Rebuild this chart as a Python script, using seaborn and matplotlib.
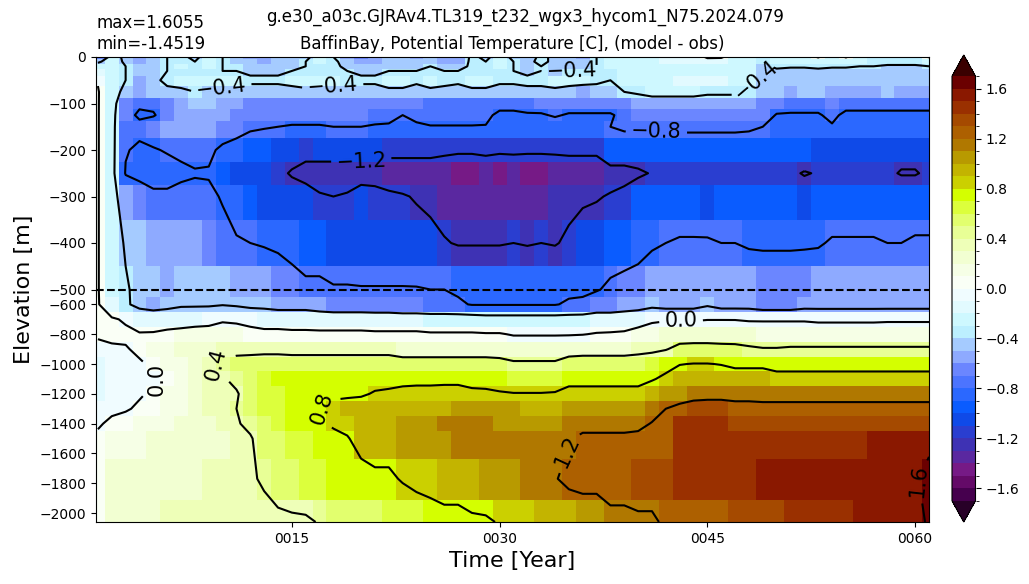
import numpy as np
import matplotlib
matplotlib.use("Agg")
import matplotlib.pyplot as plt
import seaborn as sns
from matplotlib.colors import ListedColormap, BoundaryNorm

# ---- data ----
years = np.arange(1, 62)  # annual values, year 0001 .. 0061
depth = [0, 10, 20, 30, 50, 75, 100, 125, 150, 200, 250, 300, 400, 500,
         600, 700, 800, 900, 1000, 1100, 1200, 1300, 1400, 1500, 1770, 2060]

# model - obs potential temperature [C], one row per depth, one value per year
temp_diff = [
    # 0 m
    [-0.70, -0.30, -0.45, -0.55, -0.45, -0.40, -0.35, -0.45, -0.30, -0.40,
     -0.45, -0.55, -0.55, -0.50, -0.45, -0.45, -0.30, -0.40, -0.55, -0.65,
     -0.60, -0.45, -0.50, -0.55, -0.45, -0.60, -0.60, -0.35, -0.45, -0.30,
     -0.45, -0.50, -0.35, -0.45, -0.45, -0.55, -0.40, -0.30, -0.30, -0.30,
     -0.25, -0.20, -0.15, -0.20, 0.05, 0.05, -0.25, -0.30, -0.35, -0.30,
     -0.30, -0.25, 0.03, -0.30, 0.03, -0.30, -0.35, -0.35, -0.32, -0.35, 0.03],
    # 10 m
    [-0.45, -0.25, -0.45, -0.55, -0.45, -0.40, -0.35, -0.40, -0.30, -0.40,
     -0.45, -0.50, -0.55, -0.50, -0.45, -0.40, -0.30, -0.35, -0.50, -0.60,
     -0.55, -0.45, -0.50, -0.50, -0.45, -0.55, -0.55, -0.35, -0.40, -0.30,
     -0.40, -0.45, -0.35, -0.45, -0.45, -0.50, -0.40, -0.30, -0.30, -0.25,
     -0.25, -0.20, -0.20, -0.20, -0.15, -0.20, -0.25, -0.30, -0.35, -0.30,
     -0.30, -0.30, -0.25, -0.30, -0.25, -0.30, -0.35, -0.35, -0.35, -0.35, -0.25],
    # 20 m
    [-0.25, -0.25, -0.40, -0.50, -0.45, -0.40, -0.30, -0.35, -0.30, -0.40,
     -0.40, -0.45, -0.50, -0.50, -0.45, -0.40, -0.35, -0.35, -0.45, -0.50,
     -0.50, -0.45, -0.45, -0.45, -0.40, -0.45, -0.50, -0.35, -0.35, -0.30,
     -0.40, -0.45, -0.40, -0.45, -0.45, -0.45, -0.40, -0.30, -0.30, -0.25,
     -0.25, -0.25, -0.25, -0.25, -0.25, -0.25, -0.25, -0.30, -0.45, -0.35,
     -0.38, -0.38, -0.35, -0.38, -0.38, -0.40, -0.40, -0.42, -0.42, -0.42, -0.40],
    # 30 m
    [-0.15, -0.25, -0.40, -0.50, -0.45, -0.40, -0.35, -0.40, -0.35, -0.40,
     -0.40, -0.45, -0.45, -0.45, -0.40, -0.35, -0.35, -0.35, -0.40, -0.45,
     -0.45, -0.40, -0.40, -0.40, -0.35, -0.40, -0.40, -0.35, -0.35, -0.35,
     -0.40, -0.45, -0.40, -0.45, -0.40, -0.40, -0.40, -0.35, -0.30, -0.25,
     -0.25, -0.25, -0.25, -0.25, -0.25, -0.25, -0.25, -0.30, -0.50, -0.45,
     -0.45, -0.45, -0.45, -0.45, -0.45, -0.45, -0.50, -0.50, -0.50, -0.50, -0.50],
    # 50 m
    [-0.02, -0.25, -0.40, -0.55, -0.45, -0.35, -0.30, -0.30, -0.30, -0.30,
     -0.30, -0.35, -0.35, -0.35, -0.30, -0.30, -0.30, -0.30, -0.35, -0.35,
     -0.35, -0.30, -0.30, -0.35, -0.30, -0.35, -0.35, -0.30, -0.30, -0.35,
     -0.35, -0.35, -0.35, -0.30, -0.30, -0.30, -0.35, -0.40, -0.30, -0.25,
     -0.25, -0.25, -0.20, -0.20, -0.20, -0.20, -0.25, -0.30, -0.50, -0.50,
     -0.50, -0.50, -0.50, -0.50, -0.50, -0.50, -0.50, -0.50, -0.50, -0.50, -0.50],
    # 75 m
    [0.02, -0.25, -0.50, -0.60, -0.50, -0.45, -0.45, -0.40, -0.45, -0.45,
     -0.45, -0.50, -0.50, -0.50, -0.50, -0.45, -0.45, -0.50, -0.50, -0.50,
     -0.50, -0.45, -0.45, -0.50, -0.45, -0.45, -0.50, -0.45, -0.45, -0.50,
     -0.50, -0.45, -0.45, -0.45, -0.50, -0.55, -0.50, -0.45, -0.40, -0.35,
     -0.30, -0.30, -0.30, -0.30, -0.35, -0.35, -0.35, -0.40, -0.50, -0.50,
     -0.55, -0.50, -0.50, -0.55, -0.55, -0.55, -0.55, -0.50, -0.55, -0.55, -0.55],
    # 100 m
    [0.02, -0.28, -0.65, -0.75, -0.75, -0.65, -0.55, -0.50, -0.45, -0.55,
     -0.55, -0.65, -0.65, -0.65, -0.70, -0.70, -0.70, -0.70, -0.70, -0.70,
     -0.70, -0.70, -0.70, -0.70, -0.75, -0.75, -0.75, -0.72, -0.72, -0.72,
     -0.72, -0.72, -0.70, -0.70, -0.70, -0.70, -0.70, -0.70, -0.68, -0.60,
     -0.55, -0.55, -0.55, -0.55, -0.55, -0.55, -0.55, -0.60, -0.65, -0.65,
     -0.72, -0.72, -0.72, -0.70, -0.72, -0.72, -0.72, -0.72, -0.72, -0.72, -0.72],
    # 125 m
    [0.02, -0.30, -0.70, -0.85, -0.82, -0.70, -0.60, -0.55, -0.60, -0.60,
     -0.65, -0.65, -0.65, -0.70, -0.70, -0.70, -0.70, -0.70, -0.70, -0.70,
     -0.72, -0.75, -0.80, -0.72, -0.72, -0.72, -0.72, -0.72, -0.75, -0.85,
     -0.85, -0.82, -0.82, -0.78, -0.82, -0.82, -0.82, -0.82, -0.75, -0.65,
     -0.65, -0.65, -0.65, -0.65, -0.65, -0.65, -0.65, -0.65, -0.65, -0.82,
     -0.82, -0.82, -0.82, -0.75, -0.85, -0.85, -0.85, -0.85, -0.85, -0.85, -0.85],
    # 150 m
    [0.02, -0.30, -0.75, -0.72, -0.65, -0.60, -0.55, -0.60, -0.60, -0.65,
     -0.70, -0.75, -0.78, -0.80, -0.82, -0.82, -0.82, -0.80, -0.80, -0.80,
     -0.82, -0.82, -0.85, -0.85, -0.81, -0.81, -0.81, -0.81, -0.81, -0.90,
     -0.90, -0.90, -0.90, -0.90, -0.90, -0.90, -0.85, -0.80, -0.75, -0.75,
     -0.75, -0.75, -0.75, -0.75, -0.75, -0.75, -0.75, -0.75, -0.80, -0.85,
     -0.85, -0.85, -0.85, -0.82, -0.90, -0.90, -0.90, -0.90, -0.90, -0.90, -0.90],
    # 200 m
    [0.02, -0.30, -0.78, -0.85, -0.82, -0.78, -0.75, -0.72, -0.75, -0.85,
     -0.90, -1.00, -1.00, -1.05, -1.10, -1.12, -1.10, -1.10, -1.10, -1.10,
     -1.05, -1.12, -1.12, -1.12, -1.12, -1.15, -1.15, -1.15, -1.15, -1.15,
     -1.15, -1.15, -1.15, -1.15, -1.15, -1.15, -1.15, -1.00, -1.00, -1.00,
     -1.00, -0.95, -0.95, -0.95, -0.95, -0.95, -0.95, -1.00, -1.00, -1.00,
     -1.00, -1.00, -1.05, -1.05, -1.05, -1.05, -1.10, -1.10, -1.10, -1.10, -1.10],
    # 250 m
    [0.02, -0.30, -0.82, -0.88, -0.90, -0.90, -0.85, -0.82, -0.82, -1.00,
     -1.05, -1.05, -1.10, -1.15, -1.22, -1.28, -1.30, -1.30, -1.30, -1.30,
     -1.30, -1.35, -1.35, -1.35, -1.35, -1.35, -1.45, -1.45, -1.35, -1.45,
     -1.40, -1.45, -1.45, -1.40, -1.35, -1.35, -1.35, -1.30, -1.30, -1.25,
     -1.18, -1.15, -1.15, -1.15, -1.15, -1.15, -1.15, -1.15, -1.15, -1.15,
     -1.15, -1.22, -1.18, -1.15, -1.15, -1.15, -1.15, -1.15, -1.22, -1.22, -1.15],
    # 300 m
    [0.02, -0.30, -0.55, -0.65, -0.75, -0.75, -0.72, -0.72, -0.75, -0.82,
     -0.90, -0.95, -1.05, -1.05, -1.10, -1.10, -1.18, -1.20, -1.18, -1.10,
     -1.12, -1.15, -1.18, -1.22, -1.28, -1.32, -1.32, -1.32, -1.32, -1.32,
     -1.32, -1.35, -1.35, -1.30, -1.28, -1.25, -1.22, -1.18, -1.12, -1.00,
     -1.00, -1.00, -1.00, -1.00, -1.02, -1.00, -1.00, -1.00, -1.00, -1.00,
     -1.00, -1.05, -1.00, -1.00, -1.00, -1.00, -1.00, -1.00, -1.00, -1.00, -1.00],
    # 400 m
    [0.02, -0.30, -0.42, -0.50, -0.60, -0.55, -0.60, -0.60, -0.65, -0.72,
     -0.78, -0.80, -0.82, -0.85, -0.90, -1.00, -1.00, -1.05, -1.05, -1.05,
     -1.05, -1.05, -1.05, -1.10, -1.10, -1.18, -1.22, -1.22, -1.22, -1.22,
     -1.20, -1.22, -1.20, -1.22, -1.15, -1.05, -1.05, -0.95, -0.95, -0.90,
     -0.85, -0.80, -0.77, -0.77, -0.77, -0.80, -0.80, -0.83, -0.83, -0.83,
     -0.83, -0.83, -0.83, -0.77, -0.77, -0.77, -0.77, -0.80, -0.80, -0.76, -0.76],
    # 500 m
    [0.02, -0.30, -0.38, -0.45, -0.50, -0.55, -0.45, -0.45, -0.50, -0.50,
     -0.55, -0.60, -0.60, -0.62, -0.68, -0.72, -0.72, -0.77, -0.77, -0.78,
     -0.78, -0.78, -0.78, -0.78, -0.80, -0.80, -0.85, -0.85, -0.85, -0.85,
     -0.90, -0.90, -0.88, -0.88, -0.88, -0.88, -0.82, -0.75, -0.70, -0.68,
     -0.55, -0.55, -0.55, -0.55, -0.55, -0.55, -0.60, -0.60, -0.65, -0.65,
     -0.65, -0.62, -0.55, -0.55, -0.55, -0.55, -0.55, -0.55, -0.55, -0.55, -0.55],
    # 600 m
    [0.02, -0.20, -0.35, -0.50, -0.55, -0.50, -0.45, -0.45, -0.45, -0.42,
     -0.45, -0.50, -0.50, -0.55, -0.55, -0.55, -0.60, -0.65, -0.65, -0.65,
     -0.65, -0.65, -0.70, -0.70, -0.72, -0.72, -0.75, -0.82, -0.82, -0.82,
     -0.82, -0.82, -0.82, -0.82, -0.75, -0.72, -0.65, -0.65, -0.58, -0.58,
     -0.50, -0.55, -0.55, -0.55, -0.45, -0.55, -0.55, -0.55, -0.62, -0.62,
     -0.62, -0.55, -0.55, -0.55, -0.55, -0.55, -0.55, -0.55, -0.55, -0.55, -0.55],
    # 700 m
    [0.05, 0.03, -0.03, -0.15, -0.18, -0.18, -0.15, -0.12, -0.08, -0.03,
     -0.04, -0.08, -0.15, -0.15, -0.15, -0.15, -0.18, -0.18, -0.18, -0.18,
     -0.20, -0.20, -0.20, -0.20, -0.22, -0.22, -0.22, -0.22, -0.25, -0.25,
     -0.25, -0.25, -0.25, -0.25, -0.25, -0.25, -0.20, -0.20, -0.20, -0.12,
     -0.05, -0.03, -0.03, -0.03, -0.01, -0.01, -0.01, -0.03, -0.03, -0.03,
     -0.03, -0.03, -0.05, -0.05, -0.05, -0.05, -0.05, -0.04, -0.04, -0.04, -0.04],
    # 800 m
    [0.05, 0.08, 0.05, 0.02, 0.03, 0.08, 0.10, 0.12, 0.10, 0.12,
     0.10, 0.08, 0.08, 0.08, 0.06, 0.06, 0.06, 0.06, 0.06, 0.06,
     0.05, 0.05, 0.05, 0.05, 0.03, 0.03, 0.03, 0.03, 0.02, 0.02,
     -0.02, -0.02, -0.02, -0.02, -0.02, -0.01, 0.02, 0.03, 0.05, 0.10,
     0.15, 0.20, 0.22, 0.22, 0.22, 0.22, 0.20, 0.20, 0.18, 0.18,
     0.18, 0.18, 0.18, 0.18, 0.18, 0.18, 0.18, 0.18, 0.18, 0.18, 0.18],
    # 900 m
    [-0.10, -0.05, -0.02, 0.05, 0.10, 0.15, 0.20, 0.22, 0.25, 0.30,
     0.32, 0.32, 0.32, 0.32, 0.30, 0.30, 0.30, 0.30, 0.30, 0.30,
     0.30, 0.30, 0.28, 0.28, 0.28, 0.28, 0.28, 0.28, 0.28, 0.25,
     0.20, 0.20, 0.20, 0.20, 0.25, 0.28, 0.28, 0.28, 0.28, 0.30,
     0.32, 0.38, 0.50, 0.52, 0.52, 0.50, 0.50, 0.45, 0.42, 0.42,
     0.44, 0.44, 0.44, 0.44, 0.44, 0.44, 0.44, 0.44, 0.44, 0.44, 0.44],
    # 1000 m
    [-0.15, -0.10, -0.06, -0.03, 0.04, 0.12, 0.18, 0.28, 0.35, 0.45,
     0.50, 0.52, 0.55, 0.55, 0.55, 0.55, 0.55, 0.55, 0.55, 0.55,
     0.55, 0.55, 0.50, 0.50, 0.50, 0.50, 0.50, 0.50, 0.50, 0.50,
     0.45, 0.45, 0.45, 0.45, 0.55, 0.55, 0.55, 0.55, 0.55, 0.58,
     0.65, 0.72, 0.79, 0.81, 0.81, 0.79, 0.76, 0.76, 0.76, 0.72,
     0.72, 0.72, 0.72, 0.72, 0.72, 0.72, 0.72, 0.72, 0.72, 0.72, 0.72],
    # 1100 m
    [-0.15, -0.10, -0.06, -0.08, -0.02, 0.06, 0.12, 0.22, 0.30, 0.38,
     0.45, 0.58, 0.65, 0.72, 0.72, 0.72, 0.72, 0.72, 0.72, 0.72,
     0.72, 0.72, 0.76, 0.76, 0.76, 0.76, 0.76, 0.72, 0.70, 0.70,
     0.65, 0.65, 0.65, 0.65, 0.72, 0.72, 0.72, 0.72, 0.72, 0.72,
     0.78, 0.85, 0.95, 0.95, 0.95, 0.95, 0.90, 0.90, 0.90, 0.88,
     0.88, 0.88, 0.88, 0.88, 0.88, 0.88, 0.88, 0.88, 0.88, 0.88, 0.88],
    # 1200 m
    [-0.12, -0.08, -0.05, -0.02, 0.03, 0.10, 0.15, 0.25, 0.30, 0.35,
     0.38, 0.50, 0.60, 0.68, 0.72, 0.74, 0.75, 0.76, 0.76, 0.77,
     0.82, 0.84, 0.84, 0.85, 0.85, 0.86, 0.86, 0.85, 0.85, 0.82,
     0.81, 0.81, 0.81, 0.82, 0.88, 0.88, 0.88, 0.88, 0.88, 0.88,
     0.95, 1.00, 1.08, 1.10, 1.12, 1.12, 1.12, 1.12, 1.10, 1.10,
     1.10, 1.10, 1.10, 1.10, 1.10, 1.10, 1.10, 1.10, 1.10, 1.10, 1.10],
    # 1300 m
    [-0.08, -0.05, -0.02, 0.03, 0.08, 0.12, 0.18, 0.25, 0.30, 0.35,
     0.40, 0.50, 0.60, 0.68, 0.72, 0.76, 0.79, 0.86, 0.90, 0.92,
     0.92, 0.92, 0.98, 0.98, 0.98, 0.98, 1.02, 1.02, 1.02, 1.02,
     1.00, 0.98, 0.98, 0.98, 1.05, 1.05, 1.05, 1.05, 1.05, 1.08,
     1.12, 1.20, 1.26, 1.32, 1.32, 1.32, 1.28, 1.28, 1.28, 1.28,
     1.28, 1.28, 1.28, 1.28, 1.28, 1.28, 1.28, 1.28, 1.28, 1.28, 1.28],
    # 1400 m
    [-0.03, 0.05, 0.08, 0.10, 0.15, 0.15, 0.20, 0.20, 0.28, 0.32,
     0.38, 0.45, 0.55, 0.62, 0.70, 0.75, 0.78, 0.82, 0.88, 0.92,
     0.92, 0.92, 1.02, 1.02, 1.02, 1.10, 1.10, 1.10, 1.10, 1.08,
     1.08, 1.05, 1.05, 1.05, 1.12, 1.12, 1.12, 1.12, 1.12, 1.15,
     1.21, 1.25, 1.45, 1.45, 1.45, 1.45, 1.38, 1.38, 1.38, 1.38,
     1.38, 1.38, 1.38, 1.38, 1.38, 1.38, 1.38, 1.38, 1.38, 1.38, 1.38],
    # 1500 m
    [0.05, 0.10, 0.10, 0.12, 0.20, 0.20, 0.20, 0.20, 0.28, 0.28,
     0.35, 0.38, 0.50, 0.58, 0.65, 0.65, 0.72, 0.76, 0.78, 0.90,
     0.90, 0.90, 1.00, 1.00, 1.00, 1.00, 1.10, 1.10, 1.10, 1.15,
     1.15, 1.15, 1.15, 1.15, 1.18, 1.25, 1.25, 1.25, 1.25, 1.25,
     1.25, 1.25, 1.45, 1.45, 1.45, 1.45, 1.45, 1.45, 1.45, 1.45,
     1.45, 1.45, 1.45, 1.45, 1.45, 1.45, 1.55, 1.55, 1.55, 1.55, 1.55],
    # 1770 m
    [0.08, 0.20, 0.20, 0.20, 0.28, 0.28, 0.28, 0.28, 0.33, 0.33,
     0.33, 0.38, 0.42, 0.50, 0.58, 0.65, 0.65, 0.70, 0.70, 0.70,
     0.76, 0.76, 0.82, 0.88, 0.88, 0.95, 0.95, 0.95, 1.02, 1.02,
     1.02, 1.10, 1.10, 1.18, 1.28, 1.28, 1.28, 1.28, 1.28, 1.35,
     1.35, 1.35, 1.45, 1.45, 1.45, 1.45, 1.45, 1.45, 1.55, 1.55,
     1.55, 1.55, 1.55, 1.55, 1.55, 1.55, 1.55, 1.55, 1.55, 1.58, 1.66],
    # 2060 m
    [0.08, 0.25, 0.25, 0.25, 0.25, 0.30, 0.30, 0.30, 0.30, 0.30,
     0.30, 0.30, 0.35, 0.35, 0.35, 0.35, 0.42, 0.50, 0.50, 0.55,
     0.55, 0.62, 0.62, 0.62, 0.70, 0.70, 0.70, 0.76, 0.76, 0.82,
     0.85, 0.85, 0.95, 0.95, 0.95, 1.05, 1.05, 1.15, 1.15, 1.15,
     1.15, 1.25, 1.25, 1.25, 1.25, 1.25, 1.35, 1.35, 1.35, 1.35,
     1.45, 1.45, 1.45, 1.45, 1.45, 1.55, 1.55, 1.55, 1.55, 1.55, 1.62],
]

fill_levels = np.round(np.arange(-1.7, 1.71, 0.1), 1)
line_levels = [-1.6, -1.2, -0.8, -0.4, 0.0, 0.4, 0.8, 1.2, 1.6]
cbar_ticks = [-1.6, -1.2, -0.8, -0.4, 0.0, 0.4, 0.8, 1.2, 1.6]
xticks = [15, 30, 45, 60]
xticklabels = ["0015", "0030", "0045", "0060"]
yticks = [0, -100, -200, -300, -400, -500, -600, -800, -1000, -1200,
          -1400, -1600, -1800, -2000]

# colour of each 0.1 band, from -1.7 up to 1.7
band_colors = ["#46004e", "#640a68", "#761a86", "#5a28a0", "#3e32b4", "#2a3ed0",
               "#0f4ae8", "#0a5cff", "#2b68ff", "#4c74ff", "#6b86ff", "#8eaaff",
               "#a5cbff", "#bcefff", "#cef8ff", "#e2faff", "#f0fcff", "#fafff6",
               "#f6ffe6", "#f2ffd2", "#eeffb8", "#e8ff96", "#e2ff6e", "#dcff3c",
               "#d4ff00", "#cbd000", "#c3b400", "#b89a00", "#b07800", "#ad6000",
               "#a54a00", "#9a3000", "#8a1800", "#6b0000"]

# where the contour labels sit (year, elevation)
label_spots = [(9.9, -87), (18.0, -74), (35.2, -7), (49.6, -69), (41.3, -168),
               (20.0, -236), (43.1, -703), (5.5, -1106), (8.6, -1005),
               (15.9, -1319), (34.2, -1565), (60.0, -1789)]


def label_text(v):
    s = f"{v + 0.0:.1f}"
    if s == "-0.0":
        s = "0.0"
    return s.replace("-", "\u2212")


# ---- style ----
sns.set_style("ticks", {"axes.edgecolor": "black", "xtick.color": "black",
                        "ytick.color": "black", "text.color": "black",
                        "axes.labelcolor": "black"})
plt.rcParams["font.family"] = ["DejaVu Sans"]

cmap = ListedColormap(sns.color_palette(band_colors))
cmap.set_under("#280028")
cmap.set_over("#3a0000")
norm = BoundaryNorm(fill_levels, cmap.N)

# upper 500 m gets as much room as everything below it
squeeze = 500.0 / 1560.0


def fwd(z):
    z = np.asarray(z, dtype=float)
    return np.where(z >= -500, z, -500 + (z + 500) * squeeze)


def inv(u):
    u = np.asarray(u, dtype=float)
    return np.where(u >= -500, u, -500 + (u + 500) / squeeze)


fig = plt.figure(figsize=(10.29, 5.84), dpi=100)
ax = fig.add_axes([96 / 1029, 62 / 584, 833 / 1029, 465 / 584])
cax = fig.add_axes([952 / 1029, 62 / 584, 23.5 / 1029, 467 / 584])

ax.set_yscale("function", functions=(fwd, inv))

elev = -np.array(depth, dtype=float)
field = np.array(temp_diff)

mesh = ax.pcolormesh(years, elev, field, cmap=cmap, norm=norm, shading="nearest")
cs = ax.contour(years, elev, field, levels=line_levels, colors="black",
                linewidths=1.5, linestyles="solid")
ax.clabel(cs, manual=label_spots, fontsize=15, inline=True, fmt=label_text)
ax.axhline(-500, color="black", linestyle="--", linewidth=1.5)

ax.set_xlim(0.86, 61.0)
ax.set_ylim(-2060, 0)
ax.set_xticks(xticks)
ax.set_xticklabels(xticklabels)
ax.set_yticks(yticks)
ax.set_xlabel("Time [Year]", fontsize=16)
ax.set_ylabel("Elevation [m]", fontsize=16)

ax.set_title("max=1.6055\nmin=-1.4519", loc="left", fontsize=12)
ax.set_title("BaffinBay, Potential Temperature [C], (model - obs)", fontsize=12)
fig.suptitle("g.e30_a03c.GJRAv4.TL319_t232_wgx3_hycom1_N75.2024.079",
             x=0.51, y=1 - 17 / 584, va="center", fontsize=12)

cb = fig.colorbar(mesh, cax=cax, extend="both", ticks=cbar_ticks)
cb.ax.yaxis.set_ticks(fill_levels, minor=True)

fig.savefig("out.png", dpi=100)
